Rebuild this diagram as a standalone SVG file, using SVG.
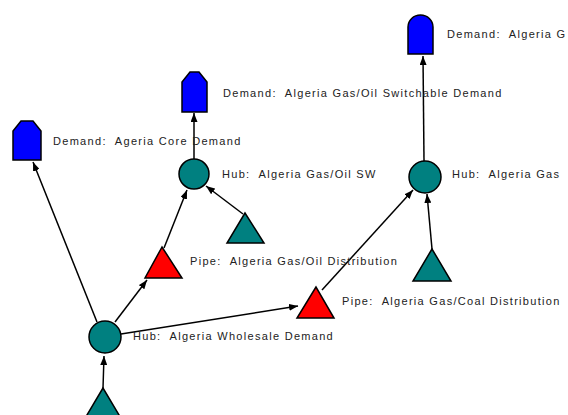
<svg xmlns="http://www.w3.org/2000/svg" width="568" height="415" viewBox="0 0 568 415">
<style>
.lbl{font-family:"Liberation Sans",Arial,sans-serif;font-size:11px;letter-spacing:1.3px;fill:#222;white-space:pre}
.dem{fill:#0000ff;stroke:#000;stroke-width:1.5}
.hub{fill:#008080;stroke:#000;stroke-width:1.5}
.sup{fill:#008080;stroke:#000;stroke-width:1.5;stroke-linejoin:miter}
.pipe{fill:#ff0000;stroke:#000;stroke-width:1.5}
.edge{stroke:#000;stroke-width:1.5;fill:none;marker-end:url(#arr)}
</style>
<defs>
<marker id="arr" markerUnits="userSpaceOnUse" markerWidth="9" markerHeight="7" refX="9" refY="3.5" orient="auto">
<path d="M0,0 L9,3.5 L0,7 Z" fill="#000"/>
</marker>
</defs>
<rect width="568" height="415" fill="#fff"/>
<g id="connectors">
<line class="edge" x1="97" y1="322" x2="33" y2="162"/>
<line class="edge" x1="115" y1="322" x2="147" y2="280"/>
<line class="edge" x1="164" y1="248" x2="187" y2="190"/>
<line class="edge" x1="243" y1="214" x2="206" y2="186"/>
<line class="edge" x1="194" y1="159" x2="194" y2="113"/>
<line class="edge" x1="121" y1="334" x2="298" y2="306"/>
<line class="edge" x1="322" y1="290" x2="413" y2="190"/>
<line class="edge" x1="432" y1="249" x2="427" y2="194"/>
<line class="edge" x1="424" y1="161" x2="423" y2="56"/>
<line class="edge" x1="103" y1="388" x2="104" y2="356"/>
</g>
<g id="demand-core">
<path class="dem" d="M13,160 V131 L21,121 H33 L41,131 V160 Z"/>
<text class="lbl" x="53" y="145" xml:space="preserve">Demand:  Ageria Core Demand</text>
</g>
<g id="demand-switchable">
<path class="dem" d="M182,112 V82 L190,72 H199 L207,82 V112 Z"/>
<text class="lbl" x="223" y="96.5" xml:space="preserve">Demand:  Algeria Gas/Oil Switchable Demand</text>
</g>
<g id="demand-right">
<path class="dem" d="M408,54 V27 A12.5,12 0 0 1 433,27 V54 Z"/>
<text class="lbl" x="447" y="38" xml:space="preserve">Demand:  Algeria G</text>
</g>
<g id="hub-sw">
<circle class="hub" cx="194" cy="174" r="15"/>
<text class="lbl" x="222" y="178" xml:space="preserve">Hub:  Algeria Gas/Oil SW</text>
</g>
<g id="hub-right">
<circle class="hub" cx="425" cy="177" r="16"/>
<text class="lbl" x="452" y="178" xml:space="preserve">Hub:  Algeria Gas</text>
</g>
<g id="hub-wholesale">
<circle class="hub" cx="105" cy="337" r="16"/>
<text class="lbl" x="133" y="340" xml:space="preserve">Hub:  Algeria Wholesale Demand</text>
</g>
<g id="supply-sw">
<polygon class="sup" points="245,213 227,243 264,243"/>
</g>
<g id="supply-right">
<polygon class="sup" points="432,249 413,281 451,281"/>
</g>
<g id="supply-bottom">
<polygon class="sup" points="103,388 84,420 122,420"/>
</g>
<g id="pipe-oil">
<polygon class="pipe" points="162,247 145,278 182,278"/>
<text class="lbl" x="190" y="265" xml:space="preserve">Pipe:  Algeria Gas/Oil Distribution</text>
</g>
<g id="pipe-coal">
<polygon class="pipe" points="316,287 297,318 334,318"/>
<text class="lbl" x="342" y="305" xml:space="preserve">Pipe:  Algeria Gas/Coal Distribution</text>
</g>
</svg>
